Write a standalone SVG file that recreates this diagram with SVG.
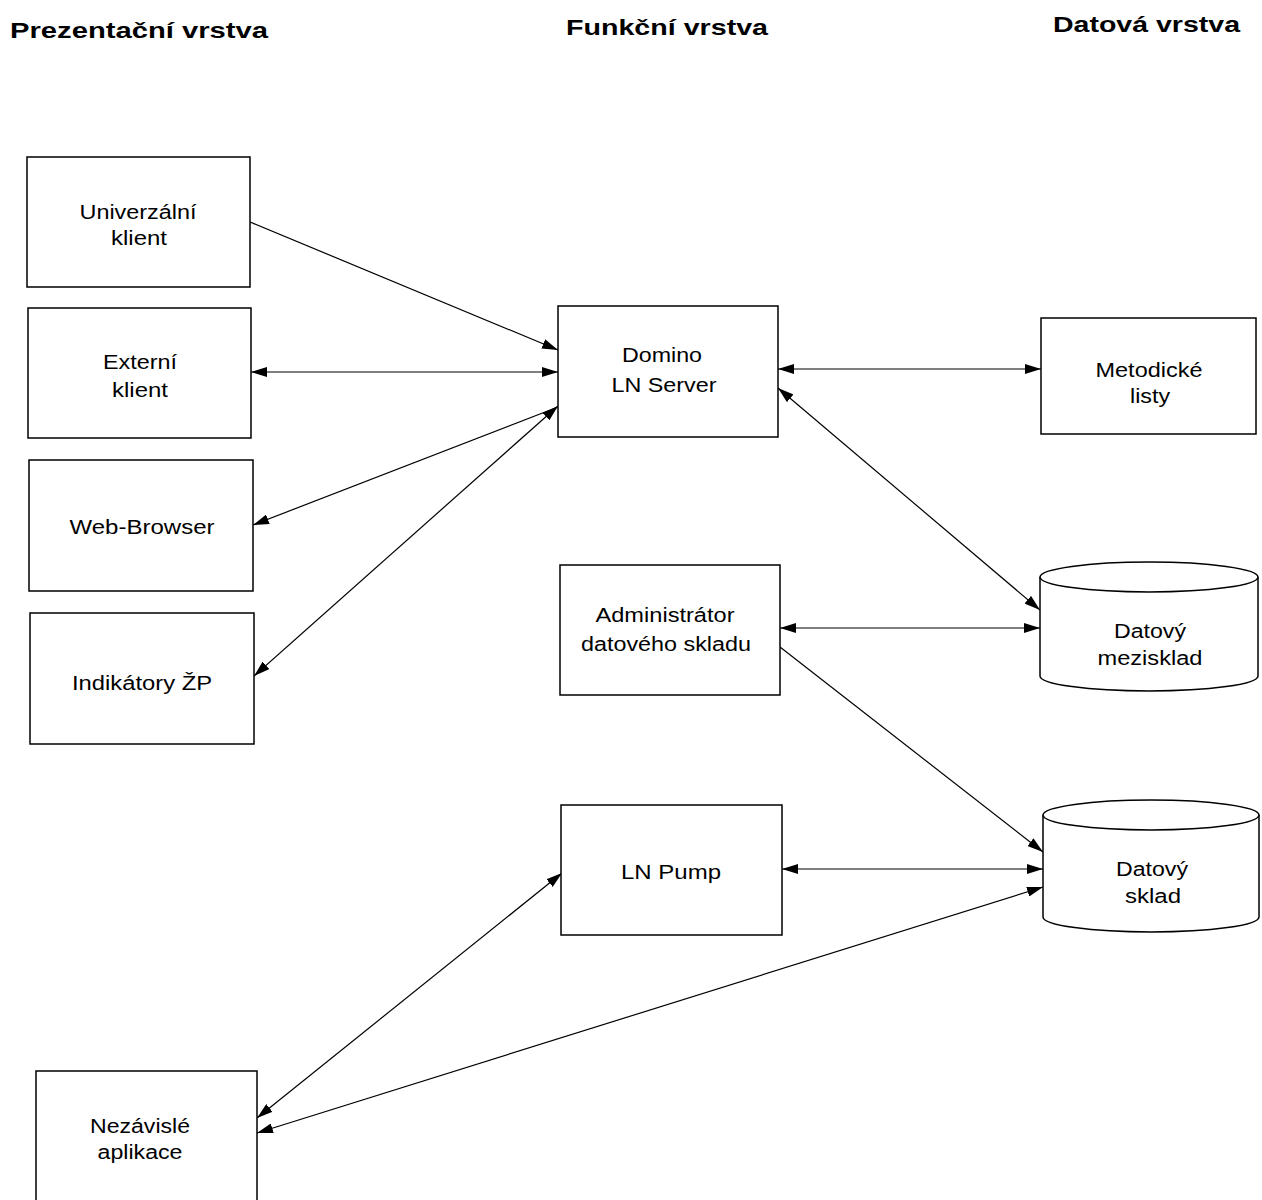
<svg xmlns="http://www.w3.org/2000/svg" width="1262" height="1200" viewBox="0 0 1262 1200">
<style>
.box{fill:#fff;stroke:#000;stroke-width:1.5}
.cyl{fill:#fff;stroke:#000;stroke-width:1.5}
.lbl{font-family:"Liberation Sans",Arial,sans-serif;font-size:20px;fill:#000;text-anchor:middle}
.hdr{font-family:"Liberation Sans",Arial,sans-serif;font-size:22px;font-weight:bold;fill:#000}
.con{fill:none;stroke:#000;stroke-width:1.2}
</style>
<defs>
<marker id="arr" viewBox="0 0 16 10" refX="16" refY="5" markerWidth="16" markerHeight="10" markerUnits="userSpaceOnUse" orient="auto-start-reverse">
<path d="M0,0 L16,5 L0,10 z" fill="#000"/>
</marker>
</defs>
<rect x="0" y="0" width="1262" height="1200" fill="#fff"/>

<g id="headers">
<text class="hdr" x="10" y="38" textLength="258" lengthAdjust="spacingAndGlyphs">Prezentační vrstva</text>
<text class="hdr" x="566" y="35" textLength="202" lengthAdjust="spacingAndGlyphs">Funkční vrstva</text>
<text class="hdr" x="1053" y="32" textLength="187" lengthAdjust="spacingAndGlyphs">Datová vrstva</text>
</g>

<g id="connectors">
<line class="con" x1="250" y1="222" x2="558" y2="350" marker-end="url(#arr)"/>
<line class="con" x1="251" y1="372" x2="558" y2="372" marker-start="url(#arr)" marker-end="url(#arr)"/>
<line class="con" x1="253" y1="525" x2="558" y2="407" marker-start="url(#arr)"/>
<line class="con" x1="254" y1="676" x2="558" y2="406" marker-start="url(#arr)" marker-end="url(#arr)"/>
<line class="con" x1="778" y1="369" x2="1041" y2="369" marker-start="url(#arr)" marker-end="url(#arr)"/>
<line class="con" x1="778" y1="388" x2="1040" y2="610" marker-start="url(#arr)" marker-end="url(#arr)"/>
<line class="con" x1="780" y1="628" x2="1040" y2="628" marker-start="url(#arr)" marker-end="url(#arr)"/>
<line class="con" x1="780" y1="647" x2="1043" y2="852" marker-end="url(#arr)"/>
<line class="con" x1="782" y1="869" x2="1043" y2="869" marker-start="url(#arr)" marker-end="url(#arr)"/>
<line class="con" x1="257" y1="1118" x2="562" y2="873" marker-start="url(#arr)" marker-end="url(#arr)"/>
<line class="con" x1="257" y1="1133" x2="1043" y2="887" marker-start="url(#arr)" marker-end="url(#arr)"/>
</g>

<g id="univerzalni-klient">
<rect class="box" x="27" y="157" width="223" height="130"/>
<text class="lbl" x="138" y="219" textLength="117" lengthAdjust="spacingAndGlyphs">Univerzální</text>
<text class="lbl" x="139" y="245" textLength="56" lengthAdjust="spacingAndGlyphs">klient</text>
</g>

<g id="externi-klient">
<rect class="box" x="28" y="308" width="223" height="130"/>
<text class="lbl" x="140" y="369" textLength="74" lengthAdjust="spacingAndGlyphs">Externí</text>
<text class="lbl" x="140" y="397" textLength="56" lengthAdjust="spacingAndGlyphs">klient</text>
</g>

<g id="web-browser">
<rect class="box" x="29" y="460" width="224" height="131"/>
<text class="lbl" x="142" y="534" textLength="145" lengthAdjust="spacingAndGlyphs">Web-Browser</text>
</g>

<g id="indikatory-zp">
<rect class="box" x="30" y="613" width="224" height="131"/>
<text class="lbl" x="142" y="690" textLength="140" lengthAdjust="spacingAndGlyphs">Indikátory ŽP</text>
</g>

<g id="nezavisle-aplikace">
<rect class="box" x="36" y="1071" width="221" height="135"/>
<text class="lbl" x="140" y="1133" textLength="100" lengthAdjust="spacingAndGlyphs">Nezávislé</text>
<text class="lbl" x="140" y="1159" textLength="85" lengthAdjust="spacingAndGlyphs">aplikace</text>
</g>

<g id="domino-ln-server">
<rect class="box" x="558" y="306" width="220" height="131"/>
<text class="lbl" x="662" y="362" textLength="80" lengthAdjust="spacingAndGlyphs">Domino</text>
<text class="lbl" x="664" y="392" textLength="105" lengthAdjust="spacingAndGlyphs">LN Server</text>
</g>

<g id="administrator-datoveho-skladu">
<rect class="box" x="560" y="565" width="220" height="130"/>
<text class="lbl" x="665" y="622" textLength="139" lengthAdjust="spacingAndGlyphs">Administrátor</text>
<text class="lbl" x="666" y="651" textLength="170" lengthAdjust="spacingAndGlyphs">datového skladu</text>
</g>

<g id="ln-pump">
<rect class="box" x="561" y="805" width="221" height="130"/>
<text class="lbl" x="671" y="879" textLength="100" lengthAdjust="spacingAndGlyphs">LN Pump</text>
</g>

<g id="metodicke-listy">
<rect class="box" x="1041" y="318" width="215" height="116"/>
<text class="lbl" x="1149" y="377" textLength="107" lengthAdjust="spacingAndGlyphs">Metodické</text>
<text class="lbl" x="1150" y="403" textLength="40" lengthAdjust="spacingAndGlyphs">listy</text>
</g>

<g id="datovy-mezisklad">
<path class="cyl" d="M1040,577 A109,15 0 0 1 1258,577 V676 A109,15 0 0 1 1040,676 Z"/>
<path class="cyl" d="M1040,577 A109,15 0 0 0 1258,577" fill="none"/>
<text class="lbl" x="1150" y="638" textLength="72" lengthAdjust="spacingAndGlyphs">Datový</text>
<text class="lbl" x="1150" y="665" textLength="105" lengthAdjust="spacingAndGlyphs">mezisklad</text>
</g>

<g id="datovy-sklad">
<path class="cyl" d="M1043,815 A108,15 0 0 1 1259,815 V917 A108,15 0 0 1 1043,917 Z"/>
<path class="cyl" d="M1043,815 A108,15 0 0 0 1259,815" fill="none"/>
<text class="lbl" x="1152" y="876" textLength="72" lengthAdjust="spacingAndGlyphs">Datový</text>
<text class="lbl" x="1153" y="903" textLength="56" lengthAdjust="spacingAndGlyphs">sklad</text>
</g>
</svg>
